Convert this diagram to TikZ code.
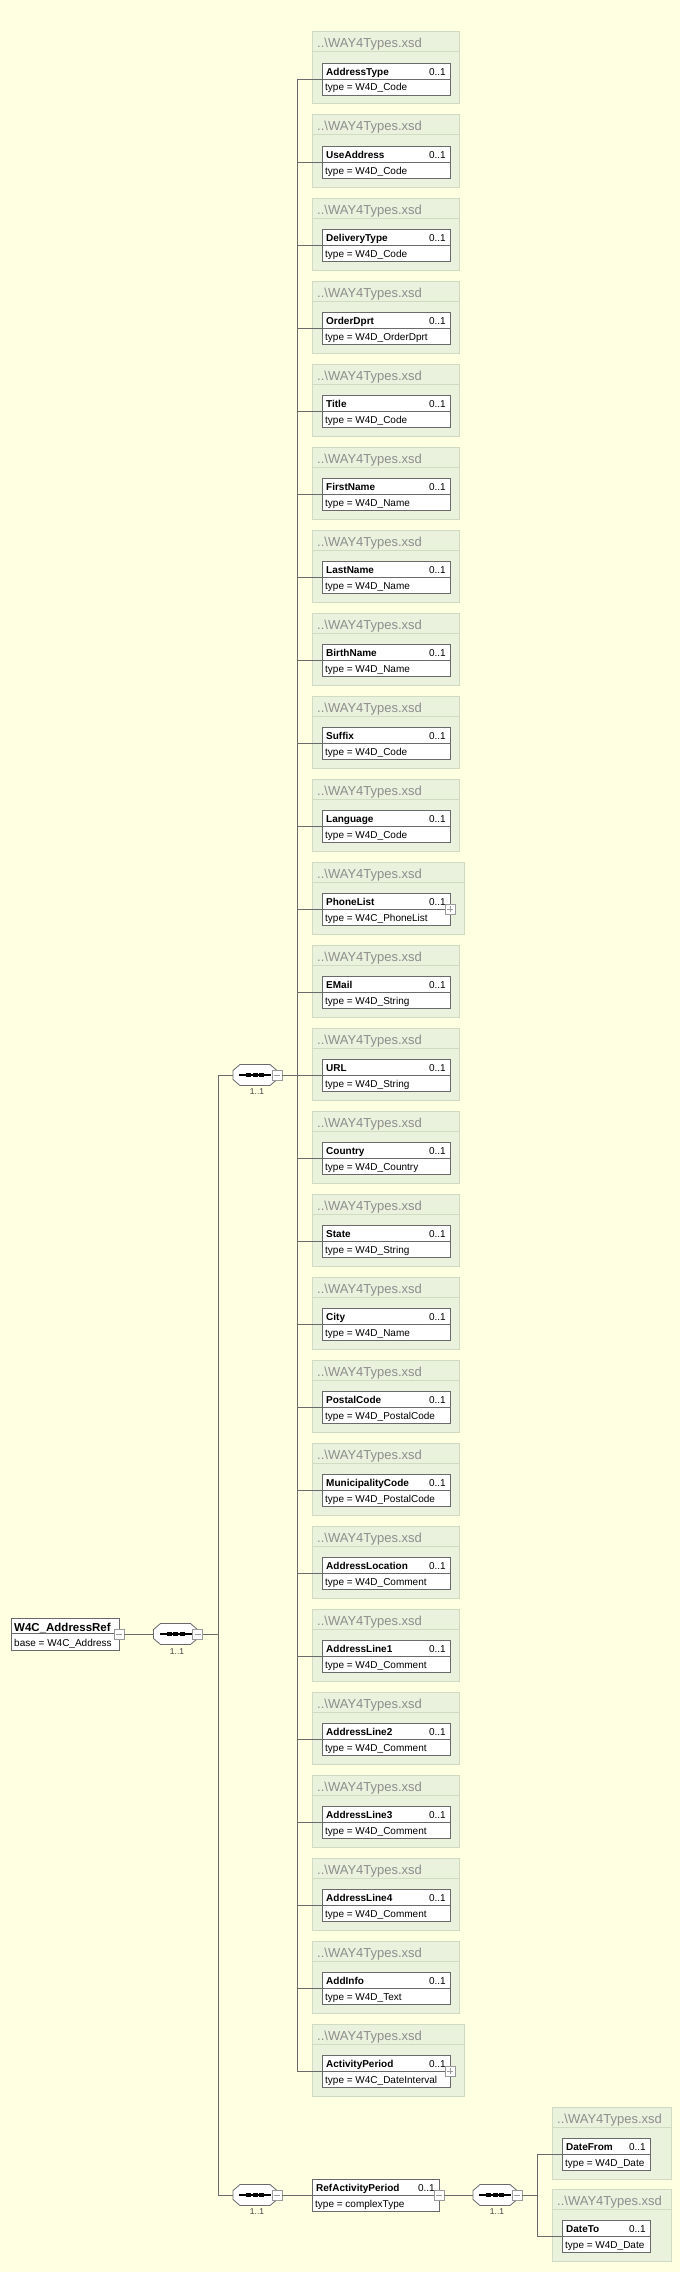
\documentclass[tikz,border=0pt]{standalone}
\usepackage{fontspec}
\setmainfont{Liberation Sans}
\definecolor{bg}{HTML}{FFFFE1}
\definecolor{gfill}{HTML}{EAF1DC}
\definecolor{gline}{HTML}{D0DCC2}
\definecolor{hdr}{HTML}{8E8E8E}
\definecolor{ln}{HTML}{6A6A6A}
\definecolor{bx}{HTML}{9A9A9A}
\tikzset{
  grp/.style={draw=gline, fill=gfill, line width=1pt, minimum height=72pt, anchor=north west, inner sep=0pt, outer sep=0pt},
  elbox/.style={draw=ln, fill=white, minimum height=32pt, anchor=north west, inner sep=0pt, outer sep=0pt, line width=0.8pt},
  conn/.style={draw=ln, line width=0.8pt},
  hdrtxt/.style={text=hdr, font=\fontsize{13}{15}\selectfont, anchor=base west, inner sep=0pt},
  nametxt/.style={font=\bfseries\fontsize{10}{12}\selectfont, anchor=base west, inner sep=0pt},
  typetxt/.style={font=\fontsize{10}{12}\selectfont, anchor=base west, inner sep=0pt},
  cardtxt/.style={font=\fontsize{10}{12}\selectfont, anchor=base east, inner sep=0pt},
  smalltxt/.style={font=\fontsize{8.5}{10}\selectfont, text=black!75, anchor=base, inner sep=0pt},
  minibox/.style={draw=bx, fill=white, minimum size=10pt, inner sep=0pt, outer sep=0pt, line width=0.6pt},
  minusbox/.style={minibox, path picture={\draw[bx, line width=0.6pt] ([xshift=2pt]path picture bounding box.west) -- ([xshift=-2pt]path picture bounding box.east);}},
  plusbox/.style={minibox, path picture={\draw[bx, line width=0.6pt] ([xshift=2pt]path picture bounding box.west) -- ([xshift=-2pt]path picture bounding box.east) ([yshift=2pt]path picture bounding box.south) -- ([yshift=-2pt]path picture bounding box.north);}},
  seqnode/.style={minimum width=44pt, minimum height=21pt, inner sep=0pt, outer sep=0pt},
}
% #1 id, #2 left x, #3 top y, #4 group width, #5 inner width, #6 name, #7 type
\newcommand\xsdel[7]{%
  \node[grp, minimum width=#4pt] (g#1) at (#2,#3) {};
  \draw[gline, line width=1pt] ([yshift=-20pt]g#1.north west) -- ([yshift=-20pt]g#1.north east);
  \node[hdrtxt] (h#1) at (#2+5,#3+16) {..\textbackslash WAY4Types.xsd};
  \node[elbox, minimum width=#5pt] (e#1) at (#2+10,#3+31) {};
  \draw[ln, line width=0.8pt] (e#1.west) -- (e#1.east);
  \node[nametxt] (n#1) at (#2+14,#3+43.5) {#6};
  \node[cardtxt] (c#1) at (#2+10+#5-4,#3+43.5) {0..1};
  \node[typetxt] (t#1) at (#2+13,#3+59) {type = #7};
}
\newcommand\seqshape[1]{%
  \draw[ln, line width=0.8pt, fill=white] ([xshift=7pt]#1.north west) -- ([xshift=-7pt]#1.north east) -- ([yshift=-6pt]#1.north east) -- ([yshift=6pt]#1.south east) -- ([xshift=-7pt]#1.south east) -- ([xshift=7pt]#1.south west) -- ([yshift=6pt]#1.south west) -- ([yshift=-6pt]#1.north west) -- cycle;
  \draw[black, line width=1.1pt] ([xshift=6pt]#1.west) -- ([xshift=-6pt]#1.east);
  \fill[black] ([xshift=-9pt,yshift=-1.7pt]#1.center) rectangle ([xshift=-4pt,yshift=1.7pt]#1.center);
  \fill[black] ([xshift=-2.5pt,yshift=-1.7pt]#1.center) rectangle ([xshift=2.5pt,yshift=1.7pt]#1.center);
  \fill[black] ([xshift=4pt,yshift=-1.7pt]#1.center) rectangle ([xshift=9pt,yshift=1.7pt]#1.center);
}
\begin{document}
\begin{tikzpicture}[x=1pt,y=-1pt]
\fill[bg] (0,0) rectangle (680,2272);
\useasboundingbox (0,0) rectangle (680,2272);

\foreach \nm/\ty/\gw/\ex [count=\k from 0] in {
  AddressType/W4D\_Code/147/0,
  UseAddress/W4D\_Code/147/0,
  DeliveryType/W4D\_Code/147/0,
  OrderDprt/W4D\_OrderDprt/147/0,
  Title/W4D\_Code/147/0,
  FirstName/W4D\_Name/147/0,
  LastName/W4D\_Name/147/0,
  BirthName/W4D\_Name/147/0,
  Suffix/W4D\_Code/147/0,
  Language/W4D\_Code/147/0,
  PhoneList/W4C\_PhoneList/152/1,
  EMail/W4D\_String/147/0,
  URL/W4D\_String/147/0,
  Country/W4D\_Country/147/0,
  State/W4D\_String/147/0,
  City/W4D\_Name/147/0,
  PostalCode/W4D\_PostalCode/147/0,
  MunicipalityCode/W4D\_PostalCode/147/0,
  AddressLocation/W4D\_Comment/147/0,
  AddressLine1/W4D\_Comment/147/0,
  AddressLine2/W4D\_Comment/147/0,
  AddressLine3/W4D\_Comment/147/0,
  AddressLine4/W4D\_Comment/147/0,
  AddInfo/W4D\_Text/147/0,
  ActivityPeriod/W4C\_DateInterval/152/1}{
  \pgfmathsetmacro\T{32+83*\k}
  \xsdel{\k}{312}{\T}{\gw}{128}{\nm}{\ty}
  \ifnum\ex=1 \node[plusbox] (x\k) at (e\k.east) {};\fi
  \draw[conn] (e\k.west) -- ++(-25,0);
}
\draw[conn] (e0.west) ++(-25,0) coordinate (busB) |- (e24.west);

% root element
\node[draw=ln, fill=white, line width=0.8pt, minimum width=108pt, minimum height=32pt, anchor=north west, inner sep=0pt, outer sep=0pt] (root) at (11,1618) {};
\draw[ln, line width=0.8pt] ([yshift=1pt]root.west) -- ([yshift=1pt]root.east);
\node[font=\bfseries\fontsize{11.5}{13}\selectfont, anchor=base west, inner sep=0pt] (rootn) at (14,1631) {W4C\_AddressRef};
\node[typetxt] (roott) at (14,1646) {base = W4C\_Address};
\node[minusbox] (rootm) at (root.east) {};

% sequence of root
\node[seqnode] (sR) at (175.5,1634) {};
\seqshape{sR}
\node[minusbox] (sRm) at (sR.east) {};
\node[smalltxt] (lR) at (177,1654) {1..1};
\draw[conn] (rootm.east) -- (sR.west);

% sequence 1 (elements)
\node[seqnode] (s1) at (255,1075) {};
\seqshape{s1}
\node[minusbox] (s1m) at (s1.east) {};
\node[smalltxt] (l1) at (257,1094) {1..1};
\draw[conn] (s1m.east) -- (s1m.east -| busB);

% sequence 2 (RefActivityPeriod)
\node[seqnode] (s2) at (255,2195) {};
\seqshape{s2}
\node[minusbox] (s2m) at (s2.east) {};
\node[smalltxt] (l2) at (257,2214) {1..1};

\coordinate (busA) at (218,1075);
\draw[conn] (s1.west) -- (busA) |- (s2.west);
\draw[conn] (sRm.east) -- (sRm.east -| busA);

% RefActivityPeriod
\node[elbox, minimum width=127pt] (ref) at (312,2179) {};
\draw[ln, line width=0.8pt] (ref.west) -- (ref.east);
\node[nametxt] (refn) at (316,2191.5) {RefActivityPeriod};
\node[cardtxt] (refc) at (435,2191.5) {0..1};
\node[typetxt] (reft) at (315,2207) {type = complexType};
\node[minusbox] (refm) at (ref.east) {};
\draw[conn] (s2m.east) -- (ref.west);

% sequence 3
\node[seqnode] (s3) at (495,2195) {};
\seqshape{s3}
\node[minusbox] (s3m) at (s3.east) {};
\node[smalltxt] (l3) at (497,2214) {1..1};
\draw[conn] (refm.east) -- (s3.west);

\xsdel{df}{552}{2107}{119}{88}{DateFrom}{W4D\_Date}
\xsdel{dt}{552}{2189}{119}{88}{DateTo}{W4D\_Date}
\draw[conn] (edf.west) -- ++(-25,0) coordinate (busC) |- (edt.west);
\draw[conn] (s3m.east) -- (s3m.east -| busC);
\end{tikzpicture}
\end{document}
